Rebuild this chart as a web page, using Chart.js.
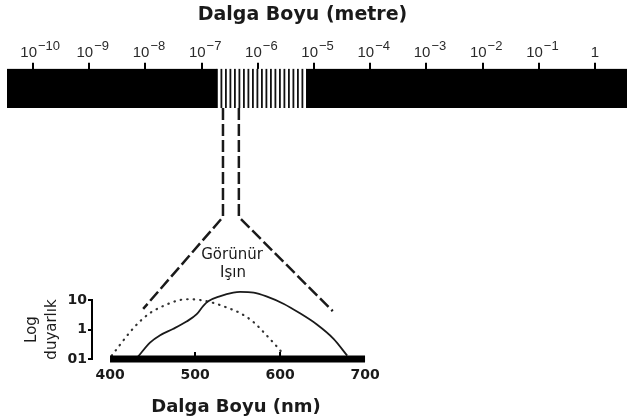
<!DOCTYPE html>
<html>
<head>
<meta charset="utf-8">
<script src="https://cdn.jsdelivr.net/npm/chart.js@4.4.0/dist/chart.umd.min.js"></script>
<style>
  html, body { margin: 0; padding: 0; background: #fff; }
  #wrap { position: relative; width: 627px; height: 418px; overflow: hidden; }
  #spectrum { position: absolute; left: 0; top: 0; }
  #response { position: absolute; left: 0; top: 100px; }
</style>
</head>
<body>
<div id="wrap">
  <canvas id="spectrum" width="627" height="110"></canvas>
  <canvas id="response" width="400" height="318"></canvas>
</div>
<script>
// top axis: powers of ten (metres)
const topTickExp = [-10, -9, -8, -7, -6, -5, -4, -3, -2, -1, 0];
// spectrum bands (metres): dark, visible (striped), dark
const bandStart = [1e-11, 1.86e-7, 7.2e-6];
const bandEnd = [1.86e-7, 7.2e-6, 10];
const bandVisible = [false, true, false];

// bottom chart: wavelength (nm) and sensitivity
const xTicks = [400, 500, 600, 700];
const yTicks = [0.1, 1, 10];
const yTickLabels = ['01', '1', '10'];
const solidNm = [433, 447, 459, 474, 490, 502, 510, 516, 529, 545, 553, 569, 584, 604, 623, 643, 663, 679];
const solidValue = [0.12, 0.36, 0.64, 1.04, 1.86, 3.3, 6.5, 9.2, 13.3, 17.8, 18.8, 17.8, 13.3, 7.5, 3.6, 1.5, 0.48, 0.13];
const dottedNm = [402, 412, 424, 435, 447, 459, 471, 482, 492, 506, 522, 537, 553, 569, 584, 596, 602];
const dottedValue = [0.13, 0.31, 0.85, 1.86, 3.6, 5.6, 7.9, 10, 10.6, 10, 7.9, 5.6, 3.6, 1.76, 0.64, 0.27, 0.17];

Chart.defaults.font.family = 'DejaVu Sans';
Chart.defaults.color = '#1a1a1a';

const responseTop = 100; // offset of the lower canvas

// stripe pattern for the visible band
const stripe = document.createElement('canvas');
stripe.width = 9;
stripe.height = 4;
const sctx = stripe.getContext('2d');
sctx.fillStyle = '#fff';
sctx.fillRect(0, 0, 9, 4);
sctx.fillStyle = '#111';
sctx.fillRect(0, 0, 1.8, 4);
sctx.fillRect(4.5, 0, 1.8, 4);
const stripePattern = document.getElementById('spectrum').getContext('2d').createPattern(stripe, 'repeat');

// draws "10" with a raised exponent above each tick
const powerLabels = {
  id: 'powerLabels',
  afterDraw(chart) {
    const ctx = chart.ctx;
    const scale = chart.scales.x;
    ctx.save();
    ctx.fillStyle = '#2a2a2a';
    ctx.textBaseline = 'alphabetic';
    scale.ticks.forEach(t => {
      const px = scale.getPixelForValue(t.value);
      const e = Math.round(Math.log10(t.value));
      ctx.font = '15px "Liberation Sans"';
      if (e === 0) {
        ctx.textAlign = 'center';
        ctx.fillText('1', px, 57);
        return;
      }
      ctx.textAlign = 'right';
      ctx.fillText('10', px + 4, 57);
      ctx.font = '13px "Liberation Sans"';
      ctx.textAlign = 'left';
      ctx.fillText('\u2212' + Math.abs(e), px + 5, 50);
    });
    ctx.restore();
  }
};

const spectrumChart = new Chart(document.getElementById('spectrum'), {
  type: 'bar',
  data: {
    labels: ['spektrum'],
    datasets: bandStart.map((s, i) => ({
      data: [[s, bandEnd[i]]],
      backgroundColor: bandVisible[i] ? stripePattern : '#000',
      borderWidth: 0,
      grouped: false,
      barPercentage: 1,
      categoryPercentage: 1,
      clip: { left: 0, top: 0, right: false, bottom: 0 }
    }))
  },
  options: {
    indexAxis: 'y',
    responsive: false,
    animation: false,
    layout: { padding: { top: 4, left: 7, right: 29, bottom: 2 } },
    plugins: { legend: { display: false }, tooltip: { enabled: false } },
    scales: {
      y: { display: false },
      x: {
        type: 'logarithmic',
        position: 'top',
        min: Math.pow(10, -10.4626),
        max: Math.pow(10, 0.053),
        afterBuildTicks: s => { s.ticks = topTickExp.map(e => ({ value: Math.pow(10, e) })); },
        grid: { drawOnChartArea: false, tickLength: 6, lineWidth: 2, color: '#000' },
        border: { display: false },
        ticks: { display: false },
        title: {
          display: true,
          text: 'Dalga Boyu (metre)',
          color: '#1a1a1a',
          font: { size: 19, weight: 'bold' },
          padding: { top: 0, bottom: 36 }
        }
      }
    }
  },
  plugins: [powerLabels]
});

// dashed connectors, label and axis-bar ticks on the lower chart
const connectors = {
  id: 'connectors',
  afterDraw(chart) {
    const ctx = chart.ctx;
    const sx = spectrumChart.scales.x;
    const startY = spectrumChart.chartArea.bottom - responseTop;
    const kneeY = 117;
    const xs = chart.scales.x;
    const ys = chart.scales.y;
    ctx.save();
    ctx.strokeStyle = '#1a1a1a';
    ctx.lineWidth = 2.5;
    ctx.setLineDash([12, 4]);
    const legs = [[2.4e-7, 439, 5.0], [4.6e-7, 662, 4.2]];
    legs.forEach(([m, nm, v]) => {
      const x0 = sx.getPixelForValue(m);
      ctx.beginPath();
      ctx.moveTo(x0, startY);
      ctx.lineTo(x0, kneeY);
      ctx.lineTo(xs.getPixelForValue(nm), ys.getPixelForValue(v));
      ctx.stroke();
    });
    ctx.setLineDash([]);
    // small ticks on the thick axis bar
    ctx.lineWidth = 2;
    ctx.strokeStyle = '#000';
    const by = ys.getPixelForValue(yTicks[0]);
    xTicks.slice(1, -1).forEach(v => {
      const px = xs.getPixelForValue(v);
      ctx.beginPath();
      ctx.moveTo(px, by - 3);
      ctx.lineTo(px, by - 7);
      ctx.stroke();
    });
    ctx.fillStyle = '#1a1a1a';
    ctx.font = '15px "DejaVu Sans"';
    ctx.textAlign = 'center';
    ctx.textBaseline = 'middle';
    ctx.fillText('Görünür', 232, 155);
    ctx.fillText('Işın', 233, 173);
    ctx.restore();
  }
};

new Chart(document.getElementById('response'), {
  type: 'line',
  data: {
    datasets: [
      {
        label: 'eksen',
        data: [xTicks[0], xTicks[xTicks.length - 1]].map(x => ({ x, y: yTicks[0] })),
        borderColor: '#000',
        borderWidth: 7,
        borderCapStyle: 'butt',
        pointRadius: 0,
        clip: false
      },
      {
        label: 'düz',
        data: solidNm.map((x, i) => ({ x, y: solidValue[i] })),
        borderColor: '#1a1a1a',
        borderWidth: 1.8,
        pointRadius: 0,
        cubicInterpolationMode: 'monotone',
        clip: false
      },
      {
        label: 'noktalı',
        data: dottedNm.map((x, i) => ({ x, y: dottedValue[i] })),
        borderColor: '#333',
        borderWidth: 2.2,
        borderDash: [0.5, 6],
        borderCapStyle: 'round',
        pointRadius: 0,
        cubicInterpolationMode: 'monotone',
        clip: false
      }
    ]
  },
  options: {
    responsive: false,
    animation: false,
    layout: { padding: { top: 200, right: 20, bottom: 0, left: 0 } },
    plugins: { legend: { display: false }, tooltip: { enabled: false } },
    scales: {
      x: {
        type: 'linear',
        min: 378.8,
        max: 717.6,
        afterBuildTicks: s => { s.ticks = xTicks.map(v => ({ value: v })); },
        grid: { display: false, drawTicks: false },
        border: { display: false },
        ticks: { padding: 8, color: '#1a1a1a', font: { size: 14, weight: 'bold' }, callback: v => String(v) },
        title: {
          display: true,
          text: 'Dalga Boyu (nm)',
          color: '#1a1a1a',
          font: { size: 18, weight: 'bold' },
          padding: { top: 18.4, bottom: 0 }
        }
      },
      y: {
        type: 'logarithmic',
        min: 0.1,
        max: 10,
        afterBuildTicks: s => { s.ticks = yTicks.map(v => ({ value: v })); },
        afterFit: s => { s.width = 92; },
        grid: { drawOnChartArea: false, tickLength: 4, lineWidth: 2, color: '#000' },
        border: { color: '#000', width: 2 },
        ticks: { padding: 1, color: '#1a1a1a', font: { size: 14, weight: 'bold' }, callback: (v, i) => yTickLabels[i] },
        title: {
          display: true,
          text: ['Log', 'duyarlık'],
          color: '#1a1a1a',
          font: { size: 15, lineHeight: 1.333 },
          padding: { top: 22, bottom: 0 }
        }
      }
    }
  },
  plugins: [connectors]
});
</script>
</body>
</html>
